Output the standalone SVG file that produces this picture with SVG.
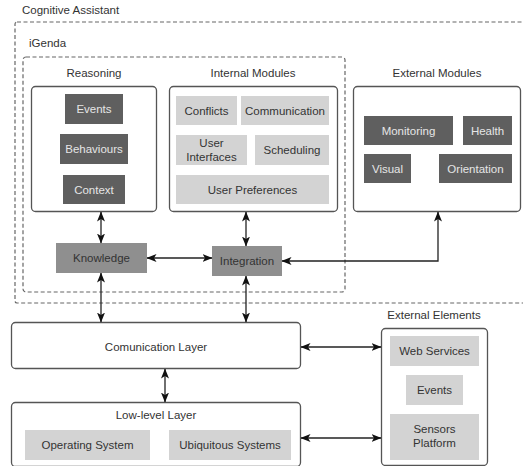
<svg xmlns="http://www.w3.org/2000/svg" width="523" height="466" viewBox="0 0 523 466">
<defs>
<marker id="ah" viewBox="0 0 10 8" refX="9.5" refY="4" markerWidth="10" markerHeight="8" markerUnits="userSpaceOnUse" orient="auto-start-reverse">
<path d="M0,0 L10,4 L0,8 L2.5,4 z" fill="#111"/>
</marker>
</defs>
<style>
text{font-family:"Liberation Sans",Arial,sans-serif;font-size:11.5px;text-anchor:middle;}
.lbl{fill:#333;}
.dash{fill:none;stroke:#666;stroke-width:1.2;stroke-dasharray:4 2.5;}
.box{fill:#fff;stroke:#555;stroke-width:1.3;}
.dark{fill:#5f5f5f;}
.dark+text,.dt{fill:#e6e6e6;}
.med{fill:#8f8f8f;}
.light{fill:#d3d3d3;}
.lt{fill:#333;}
.conn{fill:none;stroke:#222;stroke-width:1.3;marker-start:url(#ah);marker-end:url(#ah);}
</style>
<rect width="523" height="466" fill="#fff"/>

<g id="cognitive-assistant">
<rect class="dash" x="15" y="22" width="520" height="281" rx="2"/>
<text class="lbl" x="22" y="14" style="text-anchor:start">Cognitive Assistant</text>
</g>
<g id="igenda">
<rect class="dash" x="23" y="57" width="322" height="235" rx="3"/>
<text class="lbl" x="29" y="47" style="text-anchor:start">iGenda</text>
</g>

<g id="reasoning">
<text class="lbl" x="94" y="77">Reasoning</text>
<rect class="box" x="31.5" y="86.5" width="125" height="125" rx="4"/>
</g>
<g id="events-r"><rect class="dark" x="65" y="94" width="58" height="30"/><text class="dt" x="94" y="113">Events</text></g>
<g id="behaviours"><rect class="dark" x="60" y="134" width="68" height="30"/><text class="dt" x="94" y="153">Behaviours</text></g>
<g id="context"><rect class="dark" x="63" y="175" width="62" height="29"/><text class="dt" x="94" y="194">Context</text></g>

<g id="internal-modules">
<text class="lbl" x="253" y="77">Internal Modules</text>
<rect class="box" x="169.5" y="86.5" width="168" height="125" rx="4"/>
</g>
<g id="conflicts"><rect class="light" x="176" y="96" width="61" height="29"/><text class="lt" x="206.5" y="115">Conflicts</text></g>
<g id="communication"><rect class="light" x="241" y="96" width="88" height="29"/><text class="lt" x="285" y="115">Communication</text></g>
<g id="user-interfaces"><rect class="light" x="176" y="135" width="71" height="30"/><text class="lt" x="211.5" y="147">User</text><text class="lt" x="211.5" y="161">Interfaces</text></g>
<g id="scheduling"><rect class="light" x="255" y="135" width="74" height="30"/><text class="lt" x="292" y="154">Scheduling</text></g>
<g id="user-preferences"><rect class="light" x="176" y="175" width="153" height="29"/><text class="lt" x="252.5" y="194">User Preferences</text></g>

<g id="external-modules">
<text class="lbl" x="437" y="77">External Modules</text>
<rect class="box" x="353.5" y="86.5" width="167" height="125" rx="4"/>
</g>
<g id="monitoring"><rect class="dark" x="364" y="116" width="89" height="29"/><text class="dt" x="408.5" y="135">Monitoring</text></g>
<g id="health"><rect class="dark" x="463" y="116" width="49" height="29"/><text class="dt" x="487.5" y="135">Health</text></g>
<g id="visual"><rect class="dark" x="364" y="154" width="47" height="29"/><text class="dt" x="387.5" y="173">Visual</text></g>
<g id="orientation"><rect class="dark" x="439" y="154" width="73" height="29"/><text class="dt" x="475.5" y="173">Orientation</text></g>

<g id="knowledge"><rect class="med" x="56" y="243" width="91" height="30"/><text class="lt" x="101.5" y="262">Knowledge</text></g>
<g id="integration"><rect class="med" x="212" y="246" width="70" height="30"/><text class="lt" x="247" y="265">Integration</text></g>

<g id="communication-layer">
<rect class="box" x="11.5" y="322.5" width="289" height="46" rx="4"/>
<text class="lbl" x="156" y="351">Comunication Layer</text>
</g>
<g id="low-level-layer">
<rect class="box" x="11.5" y="402.5" width="289" height="64" rx="4"/>
<text class="lbl" x="156" y="419">Low-level Layer</text>
</g>
<g id="operating-system"><rect class="light" x="25" y="430" width="125" height="30"/><text class="lt" x="87.5" y="449">Operating System</text></g>
<g id="ubiquitous-systems"><rect class="light" x="169" y="430" width="122" height="30"/><text class="lt" x="230" y="449">Ubiquitous Systems</text></g>

<g id="external-elements">
<text class="lbl" x="434" y="319">External Elements</text>
<rect class="box" x="381.5" y="328.5" width="106" height="137" rx="4"/>
</g>
<g id="web-services"><rect class="light" x="390" y="336" width="89" height="30"/><text class="lt" x="434.5" y="355">Web Services</text></g>
<g id="events-e"><rect class="light" x="406" y="375" width="57" height="30"/><text class="lt" x="434.5" y="394">Events</text></g>
<g id="sensors-platform"><rect class="light" x="390" y="414" width="89" height="46"/><text class="lt" x="434.5" y="433">Sensors</text><text class="lt" x="434.5" y="447">Platform</text></g>

<g id="connectors">
<path class="conn" d="M101,212 L101,243"/>
<path class="conn" d="M246,212 L246,246"/>
<path class="conn" d="M147,258 L212,258"/>
<path class="conn" d="M438,212 L438,261 L282,261"/>
<path class="conn" d="M101,273 L101,322"/>
<path class="conn" d="M246,276 L246,322"/>
<path class="conn" d="M165,369 L165,402"/>
<path class="conn" d="M301,347 L381,347"/>
<path class="conn" d="M301,438 L381,438"/>
</g>
</svg>
